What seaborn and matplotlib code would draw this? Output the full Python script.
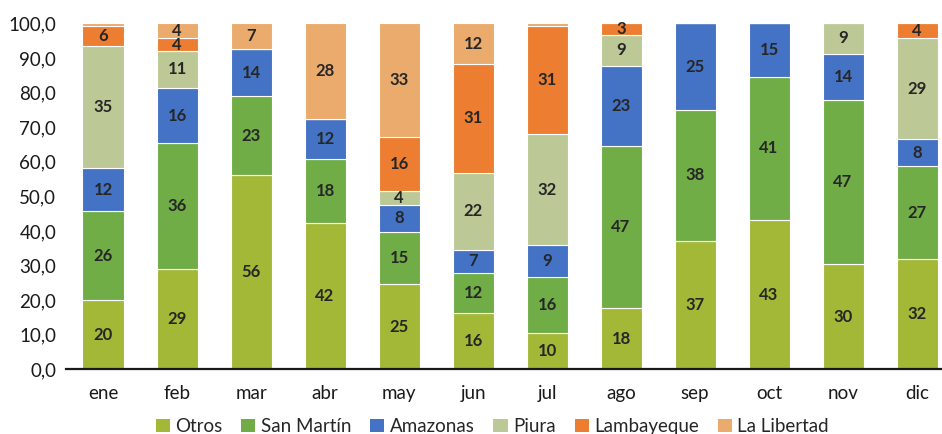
import pandas as pd
import matplotlib
matplotlib.use("Agg")
import matplotlib.pyplot as plt
from matplotlib.patches import Patch
import seaborn as sns

meses = ["ene", "feb", "mar", "abr", "may", "jun", "jul", "ago", "sep", "oct", "nov", "dic"]
regiones = ["Otros", "San Martín", "Amazonas", "Piura", "Lambayeque", "La Libertad"]

otros       = [20.0, 28.9, 56.2, 42.2, 24.7, 16.2, 10.4, 17.8, 37.0, 43.2, 30.4, 31.8]
san_martin  = [25.8, 36.4, 22.8, 18.5, 15.1, 11.7, 16.3, 46.8, 38.1, 41.4, 47.4, 27.0]
amazonas    = [12.3, 16.1, 13.6, 11.7,  7.7,  6.6,  9.2, 23.1, 24.9, 15.4, 13.5,  7.7]
piura       = [35.3, 10.6,  0.0,  0.0,  4.0, 22.4, 32.1,  9.1,  0.0,  0.0,  8.7, 29.3]
lambayeque  = [ 5.9,  3.8,  0.0,  0.0, 15.7, 31.3, 31.3,  3.2,  0.0,  0.0,  0.0,  4.2]
la_libertad = [ 0.7,  4.2,  7.4, 27.6, 32.8, 11.8,  0.7,  0.0,  0.0,  0.0,  0.0,  0.0]

colores = ["#A4B838", "#70AD47", "#4472C4", "#BCC996", "#ED7D31", "#EAAB6C"]

series = [otros, san_martin, amazonas, piura, lambayeque, la_libertad]
df = pd.DataFrame([
    {"Mes": m, "Region": r, "Valor": v}
    for r, vals in zip(regiones, series)
    for m, v in zip(meses, vals)
])
df["Mes"] = pd.Categorical(df["Mes"], categories=meses, ordered=True)
df = df.sort_values(["Mes"]).reset_index(drop=True)
df["Mes"] = df["Mes"].astype(str)

sns.set_theme(style="white")
plt.rcParams["font.family"] = ["Lato", "DejaVu Sans"]

fig = plt.figure(figsize=(9.42, 4.34), dpi=100)
ax = fig.add_axes([0.0701, 0.149, 0.9427, 0.797])

# histplot stacks the first hue level on top, so reverse the order
sns.histplot(
    data=df, x="Mes", hue="Region", weights="Valor",
    multiple="stack", discrete=True, shrink=0.555,
    hue_order=regiones[::-1], palette=dict(zip(regiones, colores)),
    alpha=1, edgecolor="white", linewidth=0.8, legend=False, ax=ax
)

for cont in ax.containers:
    ax.bar_label(cont, label_type="center",
                 fmt=lambda v: f"{v:.0f}" if v >= 2 else "",
                 fontsize=12, fontweight="bold", color="#262626")

ax.set_xlim(-0.5, 11.5)
ax.set_ylim(0, 100)
ax.set_yticks(range(0, 101, 10))
ax.set_yticklabels([f"{t:.1f}".replace(".", ",") for t in range(0, 101, 10)])
ax.set_xticks(range(12))
ax.set_xticklabels(meses)
ax.set_xlabel("")
ax.set_ylabel("")
ax.tick_params(axis="both", length=0, labelsize=13.5, colors="#1a1a1a")
ax.tick_params(axis="x", pad=11)
ax.tick_params(axis="y", pad=7)
for s in ["top", "right", "left"]:
    ax.spines[s].set_visible(False)
ax.spines["bottom"].set_color("#1a1a1a")
ax.spines["bottom"].set_linewidth(1.6)
ax.grid(False)

handles = [Patch(facecolor=c, edgecolor="none") for c in colores]
ax.legend(handles, regiones, loc="center", bbox_to_anchor=(0.48, -0.165),
          ncol=6, frameon=False, fontsize=13.5, handlelength=0.75,
          handleheight=0.75, handletextpad=0.3, columnspacing=1.0)

fig.savefig("out.png", dpi=100)
